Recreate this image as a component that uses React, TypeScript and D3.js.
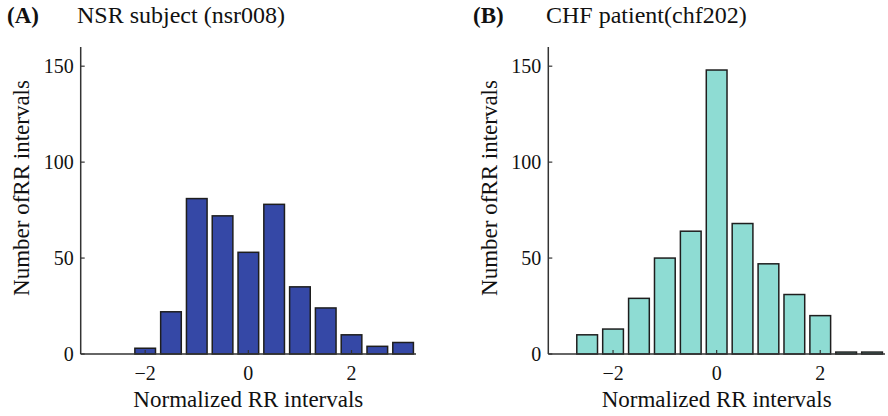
import React from "react";
import * as d3 from "d3";

const nsrCenters = [-2, -1.5, -1, -0.5, 0, 0.5, 1, 1.5, 2, 2.5, 3];
const nsrCounts = [3, 22, 81, 72, 53, 78, 35, 24, 10, 4, 6];
const chfCenters = [-2.5, -2, -1.5, -1, -0.5, 0, 0.5, 1, 1.5, 2, 2.5, 3];
const chfCounts = [10, 13, 29, 50, 64, 148, 68, 47, 31, 20, 1, 1];
const xTicks = [-2, 0, 2];
const yTicks = [0, 50, 100, 150];

const W = 888;
const H = 416;
const FONT = "Liberation Serif, Times New Roman, Tinos, DejaVu Serif, serif";

type PanelProps = {
  left: number;
  right: number;
  top: number;
  bottom: number;
  centers: number[];
  counts: number[];
  fill: string;
  letter: string;
  title: string;
  letterX: number;
  titleX: number;
  ylabelX: number;
};

const txt = (size: number, bold = false): React.CSSProperties => ({
  fontFamily: FONT,
  fontSize: size + "px",
  fontWeight: bold ? "bold" : "normal",
});

function Panel(p: PanelProps) {
  const x = d3.scaleLinear().domain([-3.25, 3.25]).range([p.left, p.right]);
  const y = d3.scaleLinear().domain([0, 160]).range([p.bottom, p.top]);
  const binW = 0.5;
  const barW = x(binW * 0.8) - x(0);
  const axisColor = "#333";
  return (
    <g>
      <text x={p.letterX} y={23} style={txt(23, true)} fill="#111">
        {p.letter}
      </text>
      <text x={p.titleX} y={23} style={txt(24)} fill="#111">
        {p.title}
      </text>
      {p.centers.map((c, i) => (
        <rect
          key={i}
          x={x(c) - barW / 2}
          y={y(p.counts[i])}
          width={barW}
          height={y(0) - y(p.counts[i])}
          fill={p.fill}
          stroke="#1e1e1e"
          strokeWidth={1.5}
        />
      ))}
      <line x1={p.left} x2={p.left} y1={p.top} y2={p.bottom} stroke={axisColor} strokeWidth={1.5} />
      <line x1={p.left} x2={p.right} y1={p.bottom} y2={p.bottom} stroke={axisColor} strokeWidth={1.5} />
      {yTicks.map((t) => (
        <g key={"y" + t}>
          <line x1={p.left} x2={p.left + 4} y1={y(t)} y2={y(t)} stroke={axisColor} strokeWidth={1.2} />
          <text
            x={p.left - 7}
            y={y(t)}
            dy="0.35em"
            textAnchor="end"
            style={txt(20)}
            fill="#111"
          >
            {t}
          </text>
        </g>
      ))}
      {xTicks.map((t) => (
        <g key={"x" + t}>
          <line x1={x(t)} x2={x(t)} y1={p.bottom} y2={p.bottom - 4} stroke={axisColor} strokeWidth={1.2} />
          <text x={x(t)} y={380} textAnchor="middle" style={txt(20)} fill="#111">
            {t < 0 ? "\u2212" + Math.abs(t) : String(t)}
          </text>
        </g>
      ))}
      <text
        x={(p.left + p.right) / 2}
        y={407}
        textAnchor="middle"
        style={txt(23)}
        fill="#111"
      >
        Normalized RR intervals
      </text>
      <text
        transform={`translate(${p.ylabelX},188) rotate(-90)`}
        textAnchor="middle"
        style={txt(23)}
        fill="#111"
      >
        Number ofRR intervals
      </text>
    </g>
  );
}

export default function App() {
  return (
    <svg
      width={W}
      height={H}
      style={{ position: "absolute", left: 0, top: 0, background: "#fff" }}
    >
      <rect x={0} y={0} width={W} height={H} fill="#fff" />
      <Panel
        left={80.7}
        right={416}
        top={47}
        bottom={354}
        centers={nsrCenters}
        counts={nsrCounts}
        fill="#3548a6"
        letter="(A)"
        title="NSR subject (nsr008)"
        letterX={7}
        titleX={77}
        ylabelX={29}
      />
      <Panel
        left={548.3}
        right={885}
        top={47}
        bottom={354}
        centers={chfCenters}
        counts={chfCounts}
        fill="#8edcd3"
        letter="(B)"
        title="CHF patient(chf202)"
        letterX={473}
        titleX={546}
        ylabelX={497}
      />
    </svg>
  );
}
